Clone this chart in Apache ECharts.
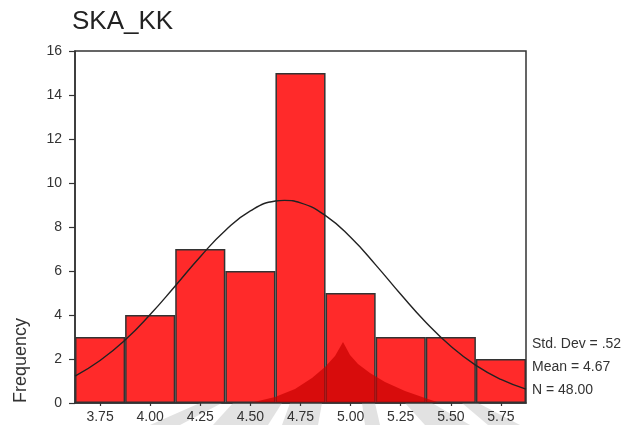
<!DOCTYPE html>
<html>
<head>
<meta charset="utf-8">
<script src="https://cdn.jsdelivr.net/npm/echarts@6/dist/echarts.min.js"></script>
<style>
html,body{margin:0;padding:0;background:#fff;}
#chart{width:623px;height:425px;}
</style>
</head>
<body>
<div id="chart"></div>
<script>
// Histogram bins (bin centres) and frequencies
const binLabels = ['3.75','4.00','4.25','4.50','4.75','5.00','5.25','5.50','5.75'];
const frequencies = [3, 4, 7, 6, 15, 5, 3, 3, 2];
// Fitted normal curve at bin edges and centres
const curveX = [3.625,3.75,3.875,4.0,4.125,4.25,4.375,4.5,4.625,4.67,4.75,4.875,5.0,5.125,5.25,5.375,5.5,5.625,5.75,5.875];
const curveY = [1.22,1.93,2.86,4.02,5.32,6.65,7.84,8.73,9.18,9.21,9.10,8.52,7.53,6.28,4.94,3.67,2.58,1.71,1.07,0.63];
const xRange = [3.625, 5.875];
const yTicks = {min: 0, max: 16, interval: 2};
const statLines = ['Std. Dev = .52', 'Mean = 4.67', 'N = 48.00'];
const titleText = 'SKA_KK';
const yName = 'Frequency';

const FONT = '"Liberation Sans", Arial, Helvetica, sans-serif';
const chart = echarts.init(document.getElementById('chart'), null, {renderer: 'canvas'});

const curveData = curveX.map((x, i) => [x, curveY[i]]);

// faint watermark shapes of the source scan (decoration only)
const rays = [
  [[200,403],[222,403],[180,425],[150,425]],
  [[233,403],[282,403],[268,425],[213,425]],
  [[290,403],[322,403],[318,425],[282,425]],
  [[362,403],[375,403],[380,425],[365,425]],
  [[405,403],[432,403],[470,425],[425,425]],
  [[462,403],[478,403],[520,425],[488,425]]
];
const hump = [[250,403],[275,397],[295,389],[312,378],[325,367],[335,356],[343,342],
              [350,355],[358,364],[370,373],[385,382],[405,391],[425,398],[440,403]];

chart.setOption({
  backgroundColor: '#fff',
  animation: false,
  title: {
    text: titleText,
    left: 67, top: 4,
    textStyle: {fontFamily: FONT, fontSize: 26, fontWeight: 'normal', color: '#222'}
  },
  grid: {
    left: 75, right: 97, top: 51, bottom: 22,
    show: true, borderColor: '#333', borderWidth: 1.5, backgroundColor: '#fff'
  },
  xAxis: [
    {
      type: 'category', data: binLabels, boundaryGap: true,
      axisLine: {show: true, lineStyle: {color: '#333', width: 1.5}},
      axisTick: {show: true, alignWithLabel: true, length: 3, lineStyle: {color: '#333', width: 1.2}},
      axisLabel: {fontFamily: FONT, fontSize: 14, color: '#333', margin: 7},
      z: 6
    },
    {
      type: 'value', min: xRange[0], max: xRange[1], show: false
    }
  ],
  yAxis: {
    type: 'value', min: yTicks.min, max: yTicks.max, interval: yTicks.interval,
    axisLine: {show: true, lineStyle: {color: '#333', width: 1.5}},
    axisTick: {show: true, length: 6, lineStyle: {color: '#333', width: 1.2}},
    axisLabel: {fontFamily: FONT, fontSize: 14, color: '#333', margin: 13},
    splitLine: {show: false}
  },
  series: [
    {
      type: 'bar', xAxisIndex: 0, data: frequencies,
      barCategoryGap: '0%',
      itemStyle: {color: '#FF2A2A', borderColor: '#333', borderWidth: 1.5},
      z: 2
    },
    {
      type: 'line', xAxisIndex: 1, data: curveData,
      smooth: 0.5, symbol: 'none',
      lineStyle: {color: '#222', width: 1.4},
      z: 5
    }
  ],
  graphic: [
    ...rays.map(p => ({
      type: 'polygon', z: 1, silent: true,
      shape: {points: p},
      style: {fill: '#E2E2E2'}
    })),
    {
      type: 'polygon', z: 3, silent: true,
      shape: {points: hump},
      style: {fill: 'rgba(200,0,0,0.7)'}
    },
    {
      type: 'text', left: 12, top: 318,
      rotation: Math.PI / 2, originX: 0, originY: 0,
      style: {text: yName, font: '18px ' + FONT, fill: '#333'}
    },
    ...statLines.map((t, i) => ({
      type: 'text', left: 532, top: 337 + i * 23,
      style: {text: t, font: '14px ' + FONT, fill: '#333'}
    }))
  ]
});
</script>
</body>
</html>
